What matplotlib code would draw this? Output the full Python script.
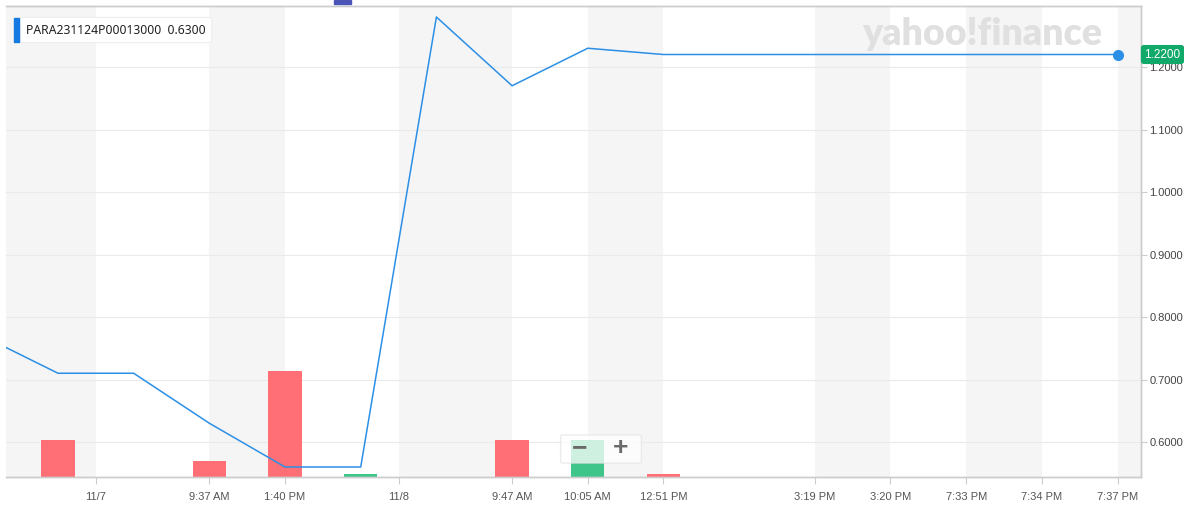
import matplotlib.pyplot as plt
from matplotlib.patches import Rectangle, FancyBboxPatch
import matplotlib.transforms as mtransforms
import numpy as np

# one slot per trade, first one sits just left of the visible window
slots = np.arange(-1, 15)
price = [0.77, 0.71, 0.71, 0.63, 0.56, 0.56, 1.28, 1.17, 1.23,
         1.22, 1.22, 1.22, 1.22, 1.22, 1.22, 1.22]
volume = [0, 14, 0, 6, 40, 1, 0, 14, 14, 1, 0, 0, 0, 0, 0, 0]

tick_pos = [0.5, 2, 3, 4.5, 6, 7, 8, 10, 11, 12, 13, 14]
tick_labels = ["11/7", "9:37 AM", "1:40 PM", "11/8", "9:47 AM", "10:05 AM",
               "12:51 PM", "3:19 PM", "3:20 PM", "7:33 PM", "7:34 PM", "7:37 PM"]
price_ticks = [0.6, 0.7, 0.8, 0.9, 1.0, 1.1, 1.2]
symbol = "PARA231124P00013000"
hover_value = 0.63

LINE = "#2c8fe6"
RED = "#ff6f75"
GREEN = "#3fc48a"

plt.rcParams["font.family"] = ["Liberation Sans", "DejaVu Sans"]
fig = plt.figure(figsize=(11.84, 5.17), dpi=100)
axv = fig.add_axes([6 / 1184, 1 - 477 / 517, 1135 / 1184, 471 / 517])
ax = axv.twinx()

xmin, xmax = -0.687, 14.31
axv.set_xlim(xmin, xmax)
ax.set_ylim(0.544, 1.2976)

# alternating background bands between the labelled ticks
edges = [xmin] + tick_pos + [xmax]
for i in range(0, len(edges) - 1, 2):
    axv.axvspan(edges[i], edges[i + 1], color="#f5f5f5", lw=0, zorder=0)

# price grid drawn underneath the volume bars
grid_tr = mtransforms.blended_transform_factory(axv.transAxes, ax.transData)
for v in price_ticks:
    axv.plot([0, 1], [v, v], transform=grid_tr, color="#eaeaea", lw=0.8,
             zorder=1)

# volume bars, green if price held or rose
prev = [price[0]] + price[:-1]
colors = [GREEN if p >= q else RED for p, q in zip(price, prev)]
axv.bar(slots, volume, width=0.44, color=colors, zorder=2)
axv.set_ylim(0, 178)
axv.set_yticks([])

# price line
ax.plot(slots, price, color=LINE, lw=1.1, zorder=3)
ax.plot(slots[-1], price[-1], "o", color=LINE, ms=7, zorder=4, clip_on=False)
ax.set_yticks(price_ticks)
ax.set_yticklabels([f"{v:.4f}" for v in price_ticks])

axv.set_xticks(tick_pos)
axv.set_xticklabels(tick_labels)
axv.tick_params(axis="x", length=5, color="#cccccc", labelcolor="#555555",
                labelsize=8, pad=6)
ax.tick_params(axis="y", length=4, color="#cccccc", labelcolor="#444444",
               labelsize=8, pad=2)

for a in (ax, axv):
    a.spines["left"].set_visible(False)
    for s in ("bottom", "right", "top"):
        a.spines[s].set_color("#cccccc")
        a.spines[s].set_linewidth(1)

# current price tag on the axis
tr = mtransforms.blended_transform_factory(ax.transAxes, ax.transData)
ax.text(1.003, price[-1], f"{price[-1]:.4f}", transform=tr, ha="left",
        va="center", color="white", fontsize=8.5, zorder=6,
        bbox=dict(boxstyle="round,pad=0.3,rounding_size=0.25",
                  fc="#10a96a", ec="none"))

# legend chip
fig.text(26 / 1184, 1 - 30 / 517, f"{symbol}  {hover_value:.4f}",
         family=["Noto Sans", "DejaVu Sans"], fontsize=8.8, color="#222222",
         fontweight="medium", va="center", ha="left",
         bbox=dict(boxstyle="round,pad=0.5,rounding_size=0.2", fc="white",
                   ec="#eeeeee", lw=0.8))
fig.patches.append(Rectangle((14 / 1184, 1 - 42 / 517), 5 / 1184, 24 / 517,
                             transform=fig.transFigure, color="#1479e0",
                             zorder=5))

# watermark
fig.text(862 / 1184, 1 - 34 / 517, "yahoo!finance", family="Lato",
         fontweight="heavy", fontsize=27, color="#e0e0e0", va="center",
         ha="left", zorder=1)

# zoom buttons
fig.patches.append(FancyBboxPatch((563 / 1184, 1 - 462 / 517), 76 / 1184,
                                  26 / 517, boxstyle="round,pad=0.002",
                                  transform=fig.transFigure, fc="white",
                                  ec="#e6e6e6", alpha=0.75, zorder=5))
fig.text(580 / 1184, 1 - 448 / 517, "\u2212", fontsize=19, fontweight="bold",
         color="#6a6a6a", ha="center", va="center", zorder=6)
fig.text(621 / 1184, 1 - 448 / 517, "+", fontsize=19, fontweight="bold",
         color="#6a6a6a", ha="center", va="center", zorder=6)

# small top tab
fig.patches.append(Rectangle((334 / 1184, 1 - 4 / 517), 17 / 1184, 4 / 517,
                             transform=fig.transFigure, color="#4b55b8"))

fig.savefig("out.png", dpi=100)
